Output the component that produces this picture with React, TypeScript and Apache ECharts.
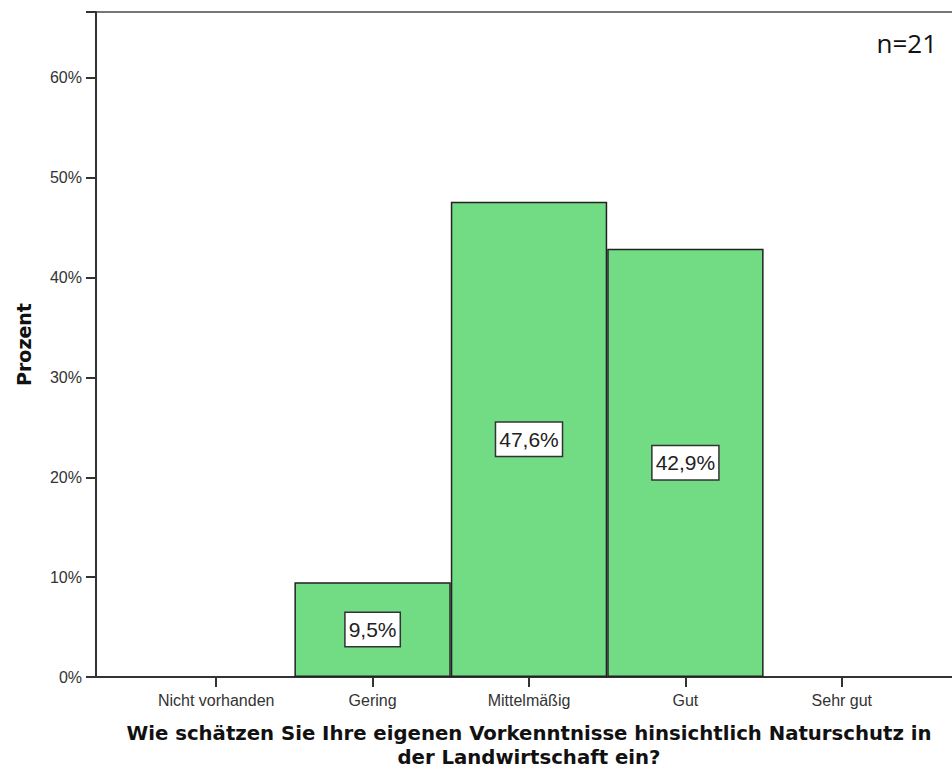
import React, { useEffect, useRef } from "react";
import * as echarts from "echarts";

const categories = ["Nicht vorhanden", "Gering", "Mittelmäßig", "Gut", "Sehr gut"];
const percentValues = [0, 9.5, 47.6, 42.9, 0];
const yTicks = [0, 10, 20, 30, 40, 50, 60];
const xTitle = "Wie schätzen Sie Ihre eigenen Vorkenntnisse hinsichtlich Naturschutz in\nder Landwirtschaft ein?";
const yTitle = "Prozent";
const nLabel = "n=21";

export default function App() {
  const ref = useRef<HTMLDivElement>(null);
  useEffect(() => {
    if (!ref.current) return;
    const chart = echarts.init(ref.current, null, { renderer: "svg" });
    const gridLeft = 138, gridRight = 32, gridTop = 12, gridBottom = 92;
    const axisX = 96;
    const barData = percentValues.map((v) =>
      v > 0
        ? { value: v }
        : { value: v, label: { show: false }, itemStyle: { borderWidth: 0, color: "transparent" } }
    );
    chart.setOption({
      animation: false,
      backgroundColor: "#ffffff",
      grid: {
        left: gridLeft, right: gridRight, top: gridTop, bottom: gridBottom,
        containLabel: false, outerBoundsMode: "none",
      },
      xAxis: {
        type: "category",
        data: categories,
        boundaryGap: true,
        axisLine: { show: false },
        axisTick: { show: true, alignWithLabel: true, length: 10, lineStyle: { color: "#333", width: 2 } },
        axisLabel: { color: "#333", fontFamily: "Liberation Sans, Arial", fontSize: 16, margin: 15 },
        name: xTitle,
        nameLocation: "middle",
        nameGap: 44,
        nameTextStyle: {
          color: "#111", fontFamily: "DejaVu Sans", fontSize: 19.7, fontWeight: "bold",
          lineHeight: 24, align: "center",
        },
      },
      yAxis: {
        type: "value",
        min: 0,
        max: 66.6,
        interval: 10,
        offset: gridLeft - axisX,
        splitLine: { show: false },
        axisLine: { show: true, lineStyle: { color: "#333", width: 2 } },
        axisTick: { show: true, length: 10, lineStyle: { color: "#333", width: 2 } },
        axisLabel: {
          color: "#333", fontFamily: "Liberation Sans, Arial", fontSize: 16, margin: 14,
          formatter: (v: number) => (yTicks.includes(v) ? v + "%" : ""),
        },
        name: yTitle,
        nameLocation: "middle",
        nameGap: 63,
        nameRotate: 90,
        nameTextStyle: { color: "#111", fontFamily: "DejaVu Sans", fontSize: 19, fontWeight: "bold" },
      },
      series: [
        {
          type: "bar",
          data: barData,
          barWidth: "100%",
          barCategoryGap: "0%",
          itemStyle: { color: "#71dc84", borderColor: "#222", borderWidth: 1.5 },
          label: {
            show: true,
            position: "inside",
            formatter: (p: any) => p.value.toFixed(1).replace(".", ",") + "%",
            color: "#222",
            fontFamily: "Liberation Sans, Arial",
            fontSize: 21,
            backgroundColor: "#ffffff",
            borderColor: "#333",
            borderWidth: 1.5,
            padding: [7, 3, 5, 3],
          },
        },
      ],
      graphic: [
        { type: "line", shape: { x1: axisX, y1: gridTop, x2: 952, y2: gridTop }, style: { stroke: "#777", lineWidth: 2 } },
        { type: "line", shape: { x1: axisX, y1: 769 - gridBottom, x2: 952, y2: 769 - gridBottom }, style: { stroke: "#333", lineWidth: 2 } },
        {
          type: "text", right: 15, top: 30,
          style: { text: nLabel, fill: "#111", font: "26px 'Open Sans', 'Noto Sans', sans-serif" },
        },
      ],
    });
    return () => chart.dispose();
  }, []);
  return <div ref={ref} style={{ width: 952, height: 769, position: "absolute", left: 0, top: 0 }} />;
}
